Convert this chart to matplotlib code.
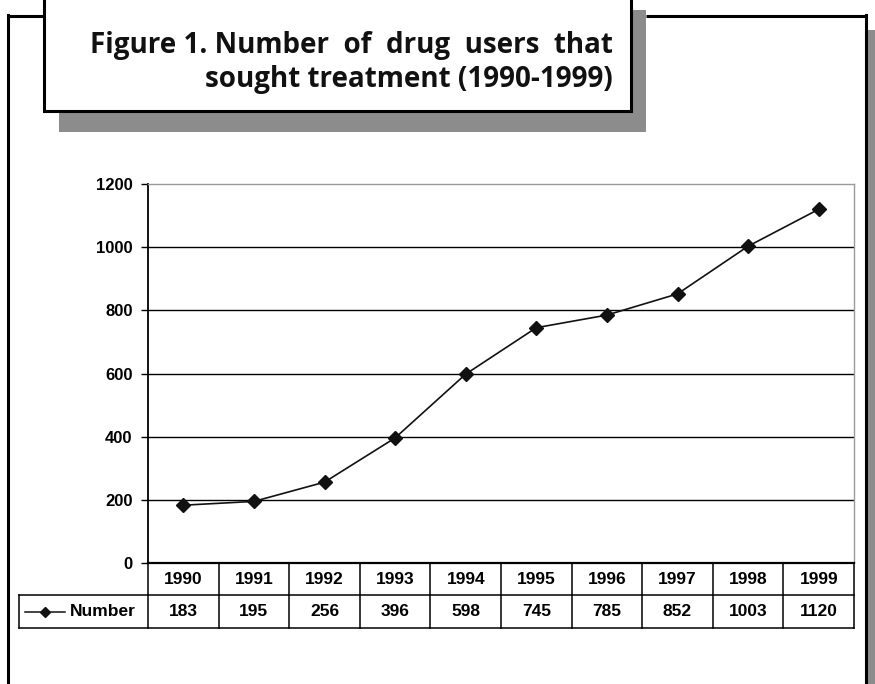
import matplotlib
matplotlib.use("Agg")
import matplotlib.pyplot as plt
from matplotlib.patches import Rectangle

years = ["1990", "1991", "1992", "1993", "1994", "1995", "1996", "1997", "1998", "1999"]
number = [183, 195, 256, 396, 598, 745, 785, 852, 1003, 1120]
yticks = [0, 200, 400, 600, 800, 1000, 1200]

W, H = 875, 684
fig = plt.figure(figsize=(W / 100, H / 100), dpi=100)

# page decoration layer in pixel coords
bg = fig.add_axes([0, 0, 1, 1], zorder=0)
bg.set_xlim(0, W)
bg.set_ylim(H, 0)
bg.axis("off")
bg.add_patch(Rectangle((868, 30), 10, 700, color="#8c8c8c", lw=0))
bg.plot([8, 44], [16, 16], c="k", lw=2.2, solid_capstyle="butt")
bg.plot([646, 866], [16, 16], c="k", lw=2.2, solid_capstyle="butt")
bg.plot([8, 8], [15, 700], c="k", lw=2.2)
bg.plot([865.5, 865.5], [15, 700], c="k", lw=2.2)
bg.add_patch(Rectangle((59, 10), 587, 122, color="#8c8c8c", lw=0))
bg.add_patch(Rectangle((44, -10), 587, 121, facecolor="white", edgecolor="k", lw=2.2))
tfont = dict(family="Open Sans", weight="bold", fontsize=20, color="#111111")
bg.text(613, 46, "Figure 1. Number  of  drug  users  that", ha="right", va="center", **tfont)
bg.text(613, 79, "sought treatment (1990-1999)", ha="right", va="center", **tfont)

# chart
x0, x1, y0, y1 = 148, 854, 563, 184
ax = fig.add_axes([x0 / W, (H - y0) / H, (x1 - x0) / W, (y0 - y1) / H], zorder=1)
ax.set_facecolor("none")
xs = list(range(len(years)))
ax.plot(xs, number, c="#111111", lw=1.2, marker="D", ms=7, mfc="#111111", mec="#111111", zorder=3)
ax.set_xlim(-0.5, len(years) - 0.5)
ax.set_ylim(0, 1200)
ax.set_yticks(yticks)
ax.set_yticklabels([str(v) for v in yticks], family="Liberation Sans", weight="bold", fontsize=12)
ax.tick_params(axis="y", length=5, width=1, pad=6, colors="k")
ax.set_xticks([])
for v in yticks[1:-1]:
    ax.axhline(v, c="k", lw=1, zorder=1)
for s in ["top", "right"]:
    ax.spines[s].set_color("#9a9a9a")
    ax.spines[s].set_linewidth(1)
ax.spines["left"].set_linewidth(1.3)
ax.spines["bottom"].set_linewidth(1.6)

# data table under the axis
tr = ax.get_xaxis_transform()
h = y0 - y1
r1 = -(595 - y0) / h
r2 = -(628 - y0) / h
px = (x1 - x0) / len(years)
xl = -0.5 - (x0 - 19) / px
kw = dict(transform=tr, clip_on=False, c="k", lw=1.1)
ax.plot([xl, len(years) - 0.5], [r1, r1], **kw)
ax.plot([xl, len(years) - 0.5], [r2, r2], **kw)
ax.plot([xl, xl], [r1, r2], **kw)
for i in range(len(years) + 1):
    ax.plot([i - 0.5, i - 0.5], [0, r2], **kw)
cfont = dict(family="Liberation Sans", weight="bold", fontsize=12.5, ha="center", va="center",
             transform=tr, clip_on=False)
for i, (yr, n) in enumerate(zip(years, number)):
    ax.text(i, r1 / 2, yr, **cfont)
    ax.text(i, (r1 + r2) / 2, str(n), **cfont)
ax.plot([-0.5 - (x0 - 25) / px, -0.5 - (x0 - 65) / px], [(r1 + r2) / 2] * 2,
        transform=tr, clip_on=False, c="#111111", lw=1.1)
ax.plot([-0.5 - (x0 - 45) / px], [(r1 + r2) / 2], transform=tr, clip_on=False,
        c="#111111", marker="D", ms=5)
ax.text(-0.5 - (x0 - 136) / px, (r1 + r2) / 2, "Number", family="Liberation Sans", weight="bold",
        fontsize=12.5, ha="right", va="center", transform=tr, clip_on=False)

fig.savefig("out.png", dpi=100)
